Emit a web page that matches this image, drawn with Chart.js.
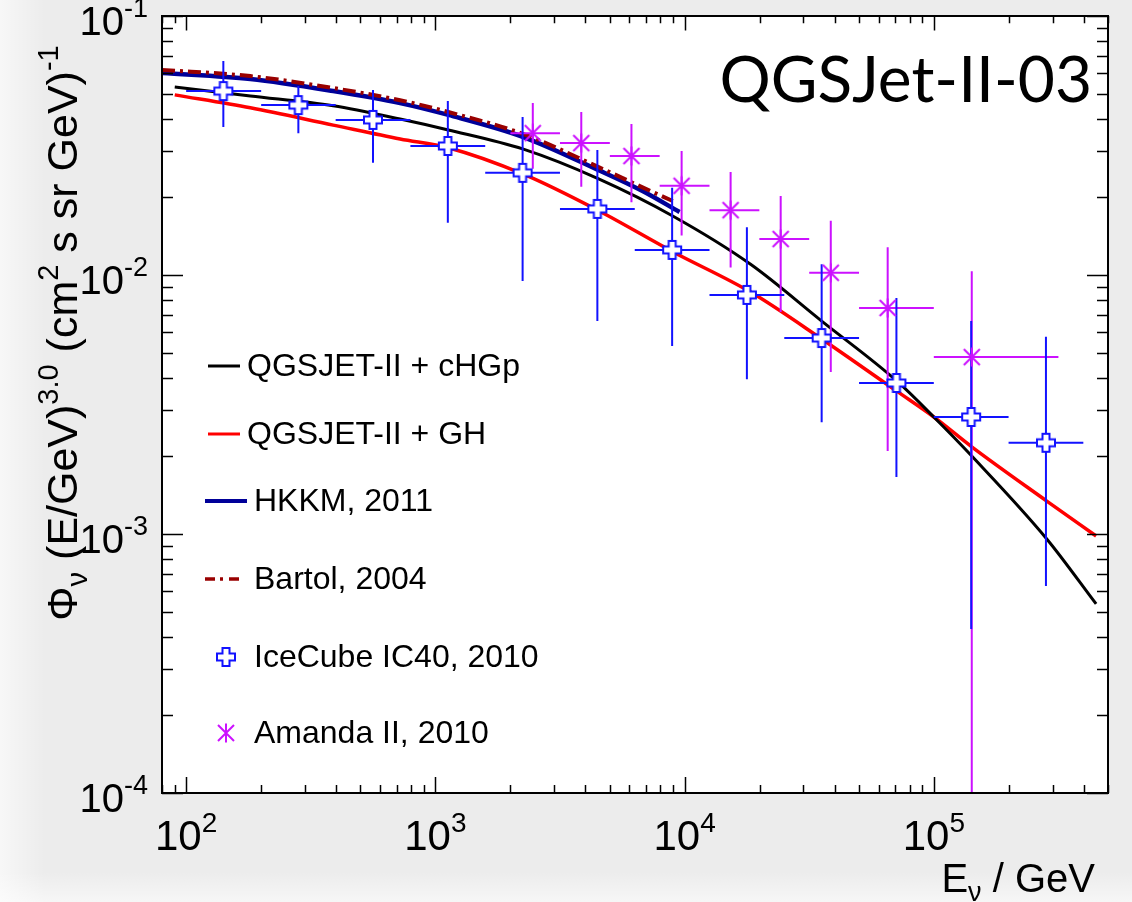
<!DOCTYPE html>
<html lang="en">
<head>
<meta charset="UTF-8">
<title>QGSJet-II-03 neutrino flux</title>
<style>
    body {
        margin: 0;
        background: #ececec;
    }
    #wrap {
        position: absolute;
        left: 0;
        top: 0;
        width: 1132px;
        height: 902px;
    }
</style>
<script src="https://cdn.jsdelivr.net/npm/chart.js@4"></script>
</head>
<body>
<div id="wrap"><canvas id="fluxChart" width="1132" height="902"></canvas></div>
<script>
// ---- values (E in GeV, flux * E^3) ----
const cHGpE = [90, 181, 389, 722, 1127, 2255, 4520, 8960, 18400, 35500, 71000, 100000, 142000, 284000, 448000];
const cHGpFlux = [0.0532, 0.0491, 0.0450, 0.0400, 0.0363, 0.0306, 0.0235, 0.0169, 0.0110, 0.00664, 0.0039, 0.00283, 0.0020, 0.000957, 0.000537];
const ghFlux = [0.0496, 0.0442, 0.0379, 0.0335, 0.0310, 0.0245, 0.0177, 0.0123, 0.00859, 0.00566, 0.00356, 0.00283, 0.00217, 0.00134, 0.000982];

const hkkmE = [80, 181, 389, 722, 1127, 2255, 4520, 6780, 9550];
const hkkmFlux = [0.0603, 0.0571, 0.0513, 0.0461, 0.0415, 0.0341, 0.0254, 0.0211, 0.0175];
const bartolE = [80, 181, 389, 722, 1127, 2255, 4520, 6780, 8960];
const bartolFlux = [0.0619, 0.0586, 0.0527, 0.0473, 0.0426, 0.0350, 0.0261, 0.0218, 0.0193];

const iceE = [141, 282, 562, 1122, 2239, 4467, 8913, 17783, 35481, 70795, 141254, 281838];
const iceELo = [100, 200, 398, 794, 1585, 3162, 6310, 12589, 25119, 50119, 100000, 199526];
const iceEHi = [200, 398, 794, 1585, 3162, 6310, 12589, 25119, 50119, 100000, 199526, 398107];
const iceFlux = [0.0513, 0.0453, 0.0397, 0.0315, 0.0248, 0.0180, 0.0125, 0.00838, 0.00571, 0.00383, 0.00283, 0.00225];
const iceFluxLo = [0.0373, 0.0353, 0.0271, 0.0159, 0.00948, 0.00664, 0.00532, 0.00396, 0.0027, 0.00166, 0.00043, 0.00063];
const iceFluxHi = [0.067, 0.0537, 0.0518, 0.047, 0.0407, 0.0304, 0.0217, 0.0153, 0.011, 0.00815, 0.00664, 0.00577];

const amE = [2460, 3850, 6120, 9730, 15300, 24300, 38600, 65300, 142000];
const amELo = [2000, 3162, 5012, 7943, 12589, 19953, 31623, 50119, 100000];
const amEHi = [3162, 5012, 7943, 12589, 19953, 31623, 50119, 100000, 316228];
const amFlux = [0.0353, 0.0323, 0.0288, 0.0221, 0.0178, 0.01377, 0.0102, 0.00746, 0.00482];
const amFluxLo = [0.0257, 0.0219, 0.0191, 0.0142, 0.0107, 0.0072, 0.00422, 0.00209, 0.00001];
const amFluxHi = [0.0461, 0.0426, 0.0383, 0.0301, 0.025, 0.0202, 0.0162, 0.0128, 0.01035];

const xMin = 80, xMax = 500000, yMin = 1e-4, yMax = 0.1;
const xTickLabels = ['10', '2', '10', '3', '10', '4', '10', '5']; // base, exponent pairs
const yTickLabels = ['10', '-1', '10', '-2', '10', '-3', '10', '-4'];

const legendItems = ['QGSJET-II + cHGp', 'QGSJET-II + GH', 'HKKM, 2011', 'Bartol, 2004', 'IceCube IC40, 2010', 'Amanda II, 2010'];

const FONT = '"Liberation Sans", Arial, Helvetica, sans-serif';
const ICE_COLOR = '#1212ff';
const AM_COLOR = '#cc11ff';

function curve(es, ys) {
    return es.map((e, i) => ({ x: e, y: ys[i] }));
}

// error bars as broken line segments (null y breaks the line)
function errorBars(es, ys, eLo, eHi, yLo, yHi) {
    const pts = [];
    es.forEach((e, i) => {
        pts.push({ x: eLo[i], y: ys[i] }, { x: eHi[i], y: ys[i] }, { x: e, y: null });
        pts.push({ x: e, y: yLo[i] }, { x: e, y: yHi[i] }, { x: e, y: null });
    });
    return pts;
}

function crossMarker(color) {
    const c = document.createElement('canvas');
    c.width = c.height = 22;
    const g = c.getContext('2d');
    const m = 11, a = 9, w = 3.5;
    g.beginPath();
    g.moveTo(m - w, m - a); g.lineTo(m + w, m - a); g.lineTo(m + w, m - w); g.lineTo(m + a, m - w);
    g.lineTo(m + a, m + w); g.lineTo(m + w, m + w); g.lineTo(m + w, m + a); g.lineTo(m - w, m + a);
    g.lineTo(m - w, m + w); g.lineTo(m - a, m + w); g.lineTo(m - a, m - w); g.lineTo(m - w, m - w);
    g.closePath();
    g.fillStyle = '#fff';
    g.fill();
    g.strokeStyle = color;
    g.lineWidth = 2;
    g.stroke();
    return c;
}

function starMarker(color) {
    const c = document.createElement('canvas');
    c.width = c.height = 22;
    const g = c.getContext('2d');
    const m = 11, a = 9.5, d = 8;
    g.strokeStyle = color;
    g.lineWidth = 2;
    g.beginPath();
    g.moveTo(m, m - a); g.lineTo(m, m + a);
    g.moveTo(m - d, m - d); g.lineTo(m + d, m + d);
    g.moveTo(m - d, m + d); g.lineTo(m + d, m - d);
    g.stroke();
    return c;
}

const iceMarker = crossMarker(ICE_COLOR);
const amMarker = starMarker(AM_COLOR);

// draw text pieces with super/subscripts
function drawRich(ctx, parts, x, y, align) {
    let total = 0;
    parts.forEach(p => {
        ctx.font = p.size + 'px ' + FONT;
        p.w = ctx.measureText(p.t).width;
        total += p.w;
    });
    let cx = align === 'right' ? x - total : align === 'center' ? x - total / 2 : x;
    ctx.textAlign = 'left';
    ctx.textBaseline = 'alphabetic';
    parts.forEach(p => {
        ctx.font = p.size + 'px ' + FONT;
        ctx.fillText(p.t, cx, y + (p.dy || 0));
        cx += p.w;
    });
}

function logTicks(min, max) {
    const out = [];
    for (let e = Math.floor(Math.log10(min)); e <= Math.ceil(Math.log10(max)); e++) {
        for (let m = 1; m <= 9; m++) {
            const v = m * Math.pow(10, e);
            if (v >= min * 0.999 && v <= max * 1.001) out.push({ v: v, major: m === 1 });
        }
    }
    return out;
}

const backgroundPlugin = {
    id: 'background',
    beforeDraw(chart) {
        const ctx = chart.ctx;
        const a = chart.chartArea;
        ctx.save();
        ctx.fillStyle = '#ececec';
        ctx.fillRect(0, 0, chart.width, chart.height);
        let gr = ctx.createLinearGradient(0, 0, 45, 0);
        gr.addColorStop(0, 'rgba(255,255,255,0.6)');
        gr.addColorStop(1, 'rgba(255,255,255,0)');
        ctx.fillStyle = gr;
        ctx.fillRect(0, 0, 45, chart.height);
        gr = ctx.createLinearGradient(0, 872, 0, 902);
        gr.addColorStop(0, 'rgba(255,255,255,0)');
        gr.addColorStop(1, 'rgba(255,255,255,0.55)');
        ctx.fillStyle = gr;
        ctx.fillRect(0, 872, chart.width, 30);
        ctx.fillStyle = '#ffffff';
        ctx.fillRect(a.left, a.top, a.right - a.left, a.bottom - a.top);
        ctx.restore();
    }
};

const framePlugin = {
    id: 'frame',
    afterDraw(chart) {
        const ctx = chart.ctx;
        const a = chart.chartArea;
        const xs = chart.scales.x, ys = chart.scales.y;
        ctx.save();
        ctx.strokeStyle = '#000';
        ctx.fillStyle = '#000';

        // ticks, inside the frame on all four sides
        ctx.lineWidth = 1.5;
        ctx.beginPath();
        logTicks(xMin, xMax).forEach(t => {
            const px = Math.round(xs.getPixelForValue(t.v)) + 0.5;
            const len = t.major ? 16 : 8;
            ctx.moveTo(px, a.bottom); ctx.lineTo(px, a.bottom - len);
            ctx.moveTo(px, a.top); ctx.lineTo(px, a.top + len * 0.9);
        });
        logTicks(yMin, yMax).forEach(t => {
            const py = Math.round(ys.getPixelForValue(t.v)) + 0.5;
            const len = t.major ? 21 : 11;
            ctx.moveTo(a.left, py); ctx.lineTo(a.left + len, py);
            ctx.moveTo(a.right, py); ctx.lineTo(a.right - len, py);
        });
        ctx.stroke();

        // frame
        ctx.lineWidth = 2;
        ctx.strokeRect(a.left, a.top, a.right - a.left, a.bottom - a.top);

        // tick labels
        for (let i = 0; i < xTickLabels.length; i += 2) {
            const v = Math.pow(10, Number(xTickLabels[i + 1]));
            const px = xs.getPixelForValue(v);
            drawRich(ctx, [
                { t: xTickLabels[i], size: 42 },
                { t: xTickLabels[i + 1], size: 28, dy: -18 }
            ], px, 850, 'center');
        }
        for (let i = 0; i < yTickLabels.length; i += 2) {
            const v = Math.pow(10, Number(yTickLabels[i + 1]));
            const py = ys.getPixelForValue(v);
            drawRich(ctx, [
                { t: yTickLabels[i], size: 40 },
                { t: yTickLabels[i + 1], size: 27, dy: -18 }
            ], 148, py + 19, 'right');
        }

        // axis titles
        drawRich(ctx, [
            { t: 'E', size: 40 },
            { t: '\u03bd', size: 27, dy: 9 },
            { t: ' / GeV', size: 40 }
        ], 1095, 892, 'right');

        ctx.save();
        ctx.translate(77, 333);
        ctx.rotate(-Math.PI / 2);
        drawRich(ctx, [
            { t: '\u03a6', size: 43 },
            { t: '\u03bd', size: 29, dy: 10 },
            { t: ' (E/GeV)', size: 43 },
            { t: '3.0', size: 29, dy: -19 },
            { t: ' (cm', size: 43 },
            { t: '2', size: 29, dy: -19 },
            { t: ' s sr GeV)', size: 43 },
            { t: '-1', size: 29, dy: -19 }
        ], 0, 0, 'center');
        ctx.restore();

        // model label
        ctx.font = '400 64px Lato, "Open Sans", sans-serif';
        ctx.textAlign = 'right';
        ctx.fillText('QGSJet-II-03', 1092, 102);

        // legend
        const rows = [366, 434, 501, 579, 657, 733];
        const lineStyles = [
            { c: '#000000', w: 3, x0: 208, x1: 240, dash: [] },
            { c: '#ff0000', w: 3, x0: 208, x1: 240, dash: [] },
            { c: '#000099', w: 4, x0: 205, x1: 247, dash: [] },
            { c: '#990000', w: 3.5, x0: 205, x1: 243, dash: [10, 5, 3, 6] }
        ];
        lineStyles.forEach((s, i) => {
            ctx.strokeStyle = s.c;
            ctx.lineWidth = s.w;
            ctx.setLineDash(s.dash);
            ctx.beginPath();
            ctx.moveTo(s.x0, rows[i]);
            ctx.lineTo(s.x1, rows[i]);
            ctx.stroke();
        });
        ctx.setLineDash([]);
        ctx.drawImage(iceMarker, 226 - 11, rows[4] - 11);
        ctx.drawImage(amMarker, 226 - 11, rows[5] - 11);
        ctx.fillStyle = '#000';
        ctx.font = '32px ' + FONT;
        ctx.textAlign = 'left';
        legendItems.forEach((t, i) => {
            ctx.fillText(t, i < 2 ? 247 : 254, rows[i] + 10);
        });
        ctx.restore();
    }
};

new Chart(document.getElementById('fluxChart'), {
    type: 'scatter',
    data: {
        datasets: [
            {
                label: legendItems[4],
                data: curve(iceE, iceFlux),
                pointStyle: iceMarker,
                pointRadius: 10,
                showLine: false,
                order: 0
            },
            {
                label: legendItems[5],
                data: curve(amE, amFlux),
                pointStyle: amMarker,
                pointRadius: 10,
                showLine: false,
                order: 1
            },
            {
                label: 'IceCube errors',
                data: errorBars(iceE, iceFlux, iceELo, iceEHi, iceFluxLo, iceFluxHi),
                showLine: true,
                spanGaps: false,
                borderColor: ICE_COLOR,
                borderWidth: 2,
                pointRadius: 0,
                order: 2
            },
            {
                label: 'Amanda errors',
                data: errorBars(amE, amFlux, amELo, amEHi, amFluxLo, amFluxHi),
                showLine: true,
                spanGaps: false,
                borderColor: AM_COLOR,
                borderWidth: 2,
                pointRadius: 0,
                order: 3
            },
            {
                label: legendItems[0],
                data: curve(cHGpE, cHGpFlux),
                showLine: true,
                borderColor: '#000000',
                borderWidth: 3,
                pointRadius: 0,
                cubicInterpolationMode: 'monotone',
                order: 4
            },
            {
                label: legendItems[1],
                data: curve(cHGpE, ghFlux),
                showLine: true,
                borderColor: '#ff0000',
                borderWidth: 3.5,
                pointRadius: 0,
                cubicInterpolationMode: 'monotone',
                order: 5
            },
            {
                label: legendItems[3],
                data: curve(bartolE, bartolFlux),
                showLine: true,
                borderColor: '#990000',
                borderWidth: 4,
                borderDash: [13, 5, 3, 5],
                pointRadius: 0,
                cubicInterpolationMode: 'monotone',
                order: 6
            },
            {
                label: legendItems[2],
                data: curve(hkkmE, hkkmFlux),
                showLine: true,
                borderColor: '#000099',
                borderWidth: 4.5,
                pointRadius: 0,
                cubicInterpolationMode: 'monotone',
                order: 7
            }
        ]
    },
    options: {
        responsive: false,
        animation: false,
        events: [],
        layout: { padding: { left: 162, top: 16, right: 24, bottom: 109 } },
        plugins: {
            legend: { display: false },
            tooltip: { enabled: false }
        },
        scales: {
            x: { type: 'logarithmic', min: xMin, max: xMax, display: false },
            y: { type: 'logarithmic', min: yMin, max: yMax, display: false }
        }
    },
    plugins: [backgroundPlugin, framePlugin]
});
</script>
</body>
</html>
